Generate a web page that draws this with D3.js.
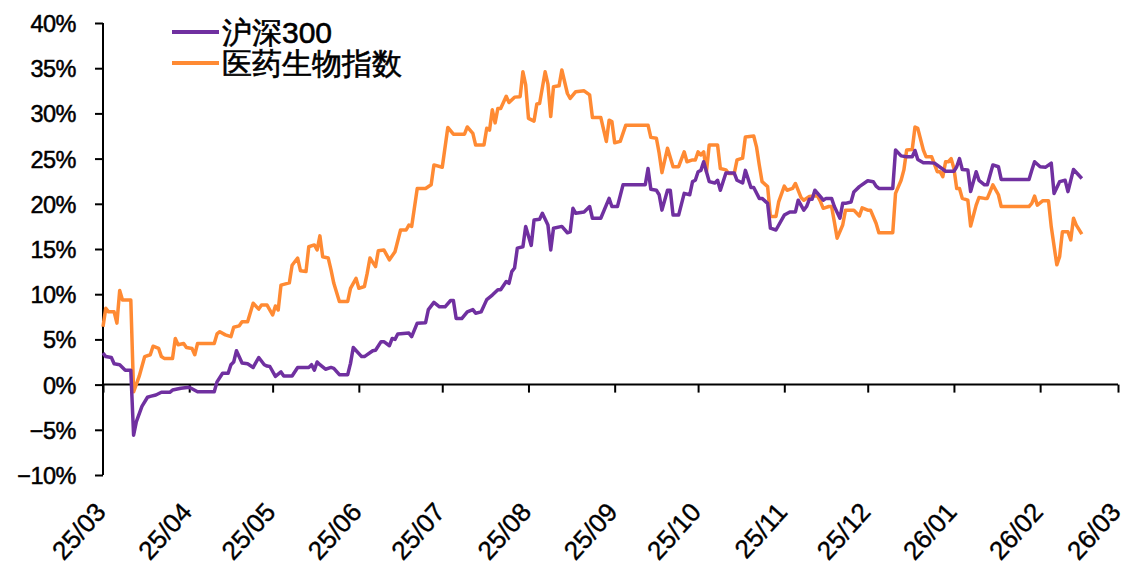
<!DOCTYPE html>
<html>
<head>
<meta charset="utf-8">
<script src="https://cdn.jsdelivr.net/npm/d3@7"></script>
<style>
  html, body { margin: 0; padding: 0; background: #fff; }
  svg { display: block; }
  text { font-family: "Liberation Sans", Arial, sans-serif; fill: #000; }
</style>
</head>
<body>
<svg id="chart" width="1127" height="572"></svg>
<script>
const seriesNames = ["沪深300", "医药生物指数"];
const seriesColors = ["#7030A0", "#FF8A33"];
const yTickValues = [-10, -5, 0, 5, 10, 15, 20, 25, 30, 35, 40];
const xTickMonths = ["2025-03-01","2025-04-01","2025-05-01","2025-06-01","2025-07-01","2025-08-01","2025-09-01","2025-10-01","2025-11-01","2025-12-01","2026-01-01","2026-02-01","2026-03-01"];

const hs300Dates = ["2025-03-01","2025-03-02","2025-03-04","2025-03-05","2025-03-07","2025-03-09","2025-03-11","2025-03-12","2025-03-13","2025-03-15","2025-03-17","2025-03-18","2025-03-20","2025-03-22","2025-03-25","2025-03-26","2025-03-29",
"2025-04-01","2025-04-04","2025-04-10","2025-04-11","2025-04-13","2025-04-15","2025-04-16","2025-04-17","2025-04-18","2025-04-20","2025-04-22","2025-04-24","2025-04-26","2025-04-28","2025-04-29","2025-04-30",
"2025-05-02","2025-05-04","2025-05-05","2025-05-08","2025-05-10","2025-05-14","2025-05-15","2025-05-16","2025-05-17","2025-05-18","2025-05-20","2025-05-22","2025-05-23","2025-05-25","2025-05-28","2025-05-29","2025-05-30",
"2025-06-02","2025-06-03","2025-06-06","2025-06-07","2025-06-09","2025-06-10","2025-06-12","2025-06-13","2025-06-14","2025-06-15","2025-06-19","2025-06-20","2025-06-22","2025-06-25","2025-06-26","2025-06-28","2025-06-30",
"2025-07-02","2025-07-04","2025-07-05","2025-07-06","2025-07-08","2025-07-10","2025-07-12","2025-07-13","2025-07-15","2025-07-17","2025-07-19","2025-07-21","2025-07-22","2025-07-24","2025-07-25","2025-07-26","2025-07-27","2025-07-28","2025-07-30","2025-07-31",
"2025-08-02","2025-08-03","2025-08-05","2025-08-06","2025-08-08","2025-08-09","2025-08-10","2025-08-13","2025-08-15","2025-08-16","2025-08-17","2025-08-18","2025-08-21","2025-08-23","2025-08-24","2025-08-27","2025-08-30","2025-08-31",
"2025-09-02","2025-09-04","2025-09-12","2025-09-13","2025-09-14","2025-09-16","2025-09-17","2025-09-18","2025-09-20","2025-09-21","2025-09-22","2025-09-24","2025-09-26","2025-09-28","2025-09-29","2025-09-30",
"2025-10-01","2025-10-02","2025-10-03","2025-10-05","2025-10-07","2025-10-08","2025-10-09","2025-10-11","2025-10-14","2025-10-15","2025-10-17","2025-10-18","2025-10-20","2025-10-21","2025-10-23","2025-10-24","2025-10-26","2025-10-27","2025-10-29",
"2025-11-01","2025-11-03","2025-11-05","2025-11-06","2025-11-08","2025-11-09","2025-11-10","2025-11-11","2025-11-12","2025-11-14","2025-11-15","2025-11-16","2025-11-18","2025-11-19","2025-11-21","2025-11-22","2025-11-23","2025-11-25","2025-11-26","2025-11-28",
"2025-12-01","2025-12-03","2025-12-04","2025-12-05","2025-12-10","2025-12-11","2025-12-13","2025-12-15","2025-12-17","2025-12-18","2025-12-19","2025-12-21","2025-12-23","2025-12-25","2025-12-29",
"2026-01-01","2026-01-02","2026-01-03","2026-01-04","2026-01-06","2026-01-07","2026-01-09","2026-01-10","2026-01-12","2026-01-13","2026-01-15","2026-01-17","2026-01-18","2026-01-28","2026-01-29","2026-01-30",
"2026-02-01","2026-02-03","2026-02-05","2026-02-06","2026-02-08","2026-02-10","2026-02-11","2026-02-13","2026-02-16"];
const hs300Values = [3.5,3.1,3.0,2.3,2.2,1.6,1.6,-5.6,-4.1,-2.4,-1.4,-1.3,-1.15,-0.85,-0.85,-0.6,-0.4,
-0.3,-0.8,-0.8,0.3,1.25,1.25,2.2,2.5,3.75,2.4,2.3,1.9,3.0,2.2,2.05,2.0,
0.9,1.4,0.95,0.95,1.9,1.9,2.2,1.6,2.5,2.2,1.7,1.9,1.8,1.1,1.1,2.35,4.1,
3.1,3.1,3.75,3.8,4.75,4.75,4.3,5.1,5.0,5.6,5.7,5.3,6.8,6.85,8.3,9.1,8.6,
8.6,9.3,9.3,7.3,7.3,8.05,8.3,7.9,8.05,9.4,9.9,10.5,10.5,11.4,11.2,12.5,12.9,15.1,15.25,17.5,
15.4,18.2,18.3,18.95,17.65,14.9,17.3,17.5,16.8,16.9,19.5,18.95,19.1,19.7,18.4,18.4,20.6,19.7,
19.7,22.1,22.1,23.9,21.6,21.5,21.0,19.3,21.5,21.5,18.75,18.75,21.15,21.0,22.45,22.6,
23.55,23.7,24.65,22.45,22.3,22.6,21.5,23.4,23.4,22.6,22.3,23.7,21.8,21.8,20.6,20.6,20.05,17.3,17.1,
18.75,19.1,19.1,20.4,19.3,19.7,20.5,20.5,21.5,20.8,20.4,20.6,20.6,19.7,18.4,20.05,20.05,20.2,21.3,21.9,
22.55,22.45,21.95,21.7,21.7,25.95,25.3,25.2,25.2,25.9,24.9,24.55,24.55,24.5,23.6,
23.6,24.1,25.0,23.8,23.75,21.35,23.55,22.6,22.1,22.1,24.3,24.1,22.7,22.7,23.7,24.65,
24.1,24.05,24.5,21.15,22.45,22.6,21.35,23.8,22.8];

const yyDates = ["2025-03-01","2025-03-02","2025-03-03","2025-03-05","2025-03-06","2025-03-07","2025-03-08","2025-03-11","2025-03-12","2025-03-14","2025-03-16","2025-03-18","2025-03-19","2025-03-21","2025-03-22","2025-03-23","2025-03-26","2025-03-27","2025-03-28","2025-03-30","2025-03-31",
"2025-04-02","2025-04-03","2025-04-04","2025-04-10","2025-04-11","2025-04-12","2025-04-14","2025-04-16","2025-04-17","2025-04-19","2025-04-20","2025-04-22","2025-04-24","2025-04-26","2025-04-27","2025-04-29",
"2025-05-01","2025-05-02","2025-05-03","2025-05-04","2025-05-07","2025-05-08","2025-05-10","2025-05-11","2025-05-13","2025-05-14","2025-05-16","2025-05-17","2025-05-18","2025-05-19","2025-05-21","2025-05-22","2025-05-23","2025-05-25","2025-05-28","2025-05-29","2025-05-31",
"2025-06-01","2025-06-03","2025-06-04","2025-06-05","2025-06-07","2025-06-08","2025-06-10","2025-06-12","2025-06-14","2025-06-16","2025-06-18","2025-06-19","2025-06-20","2025-06-22","2025-06-25","2025-06-27","2025-06-28",
"2025-07-01","2025-07-03","2025-07-05","2025-07-09","2025-07-10","2025-07-12","2025-07-13","2025-07-16","2025-07-17","2025-07-18","2025-07-19","2025-07-20","2025-07-21","2025-07-22","2025-07-24","2025-07-25","2025-07-27","2025-07-29","2025-07-30","2025-07-31",
"2025-08-01","2025-08-03","2025-08-04","2025-08-05","2025-08-07","2025-08-08","2025-08-09","2025-08-10","2025-08-12","2025-08-13","2025-08-15","2025-08-16","2025-08-18","2025-08-21","2025-08-23","2025-08-24","2025-08-27","2025-08-29","2025-08-30","2025-08-31",
"2025-09-01","2025-09-03","2025-09-05","2025-09-13","2025-09-14","2025-09-16","2025-09-17","2025-09-18","2025-09-20","2025-09-22","2025-09-24","2025-09-26","2025-09-27","2025-09-29","2025-09-30",
"2025-10-01","2025-10-02","2025-10-03","2025-10-04","2025-10-05","2025-10-08","2025-10-09","2025-10-11","2025-10-12","2025-10-14","2025-10-15","2025-10-17","2025-10-18","2025-10-21","2025-10-22","2025-10-23","2025-10-24","2025-10-26","2025-10-27","2025-10-29","2025-10-30",
"2025-11-01","2025-11-02","2025-11-04","2025-11-05","2025-11-07","2025-11-08","2025-11-10","2025-11-11","2025-11-13","2025-11-14","2025-11-15","2025-11-17","2025-11-18","2025-11-19","2025-11-20","2025-11-22","2025-11-23","2025-11-26","2025-11-28","2025-11-29",
"2025-12-01","2025-12-02","2025-12-04","2025-12-05","2025-12-10","2025-12-11","2025-12-13","2025-12-14","2025-12-15","2025-12-17","2025-12-18","2025-12-19","2025-12-21","2025-12-22","2025-12-24","2025-12-26","2025-12-27","2025-12-28","2025-12-29","2025-12-30","2025-12-31",
"2026-01-01","2026-01-02","2026-01-03","2026-01-04","2026-01-06","2026-01-07","2026-01-09","2026-01-10","2026-01-12","2026-01-13","2026-01-15","2026-01-17","2026-01-18","2026-01-28","2026-01-29","2026-01-30","2026-01-31",
"2026-02-02","2026-02-04","2026-02-05","2026-02-07","2026-02-08","2026-02-09","2026-02-11","2026-02-12","2026-02-13","2026-02-14","2026-02-16"];
const yyValues = [6.4,8.45,8.05,8.05,6.8,10.4,9.35,9.35,-0.8,0.9,3.1,3.3,4.25,4.0,3.1,2.9,2.9,5.1,4.4,4.55,4.1,
4.0,3.3,4.55,4.55,5.6,5.85,5.5,5.3,6.35,6.5,6.95,6.95,9.0,8.35,8.8,8.8,
7.7,8.7,8.25,11.0,11.25,13.2,14.0,12.6,12.5,15.25,15.45,14.9,16.45,14.15,14.0,12.7,11.2,9.2,9.2,10.65,11.75,
10.65,10.85,12.3,14.0,13.05,14.8,14.9,13.8,14.7,17.1,17.1,17.65,17.5,21.7,21.7,22.1,24.3,
24.05,28.45,27.7,27.7,28.5,27.8,26.5,26.5,28.35,28.15,30.4,28.95,30.55,30.55,31.9,31.2,31.8,31.85,34.6,33.15,
29.45,29.15,31.05,31.1,34.6,33.25,29.65,32.95,33.05,34.8,32.2,31.65,32.4,32.5,32.05,29.55,29.55,26.9,29.25,29.1,
26.75,26.9,28.7,28.7,27.35,27.25,25.6,23.45,26.15,24.1,24.1,25.75,24.65,24.85,24.85,
25.75,25.4,25.75,23.55,26.5,26.5,23.9,23.75,23.35,23.35,24.85,25.05,27.4,27.5,26.3,24.3,22.45,21.9,18.6,18.6,20.25,
21.95,21.5,21.7,22.25,20.7,20.4,20.8,20.85,20.85,20.25,19.5,19.7,19.7,18.0,16.2,17.65,19.3,19.3,18.65,19.55,
19.3,19.3,17.85,16.8,16.8,21.15,22.6,23.75,25.95,26.0,28.5,28.35,25.95,25.2,25.2,23.55,23.55,23.0,24.65,24.65,25.0,
23.9,21.7,21.7,20.6,20.4,17.55,19.85,20.7,20.6,20.6,22.1,21.0,19.7,19.7,20.05,20.85,19.85,
20.35,20.35,17.45,13.25,14.15,16.9,16.9,16.0,18.4,17.65,16.65];

const parse = d3.timeParse("%Y-%m-%d");
const series = [
  { name: seriesNames[0], color: seriesColors[0], points: hs300Dates.map((d, i) => ({ date: parse(d), value: hs300Values[i] })) },
  { name: seriesNames[1], color: seriesColors[1], points: yyDates.map((d, i) => ({ date: parse(d), value: yyValues[i] })) }
];
const monthTicks = xTickMonths.map(parse);

const svg = d3.select("#chart");
const plotLeft = 103, plotRight = 1118, plotTop = 23, plotBottom = 475;

const x = d3.scaleTime().domain([monthTicks[0], monthTicks[monthTicks.length - 1]]).range([plotLeft, plotRight]);
const y = d3.scaleLinear().domain([-10, 40]).range([plotBottom, plotTop]);

// Y axis
const yAxis = svg.append("g")
  .attr("transform", `translate(${plotLeft},0)`)
  .call(d3.axisLeft(y).tickValues(yTickValues).tickSize(8).tickPadding(19)
    .tickFormat(d => (d < 0 ? "\u2212" + Math.abs(d) : d) + "%"));
yAxis.select(".domain").attr("stroke", "#000").attr("stroke-width", 2).attr("d", `M0,${plotTop}V${plotBottom}`);
yAxis.selectAll(".tick line").attr("stroke", "#000").attr("stroke-width", 2);
yAxis.selectAll(".tick text")
  .attr("font-size", 23.5).attr("font-family", "Liberation Sans, Arial, sans-serif")
  .attr("dy", "0.36em").attr("stroke", "#000").attr("stroke-width", 0.5).attr("letter-spacing", -0.5);

// X axis ticks on zero line
const xAxis = svg.append("g")
  .attr("transform", `translate(0,${y(0)})`)
  .call(d3.axisBottom(x).tickValues(monthTicks).tickSize(8).tickFormat(""));
xAxis.select(".domain").attr("stroke", "#000").attr("stroke-width", 2).attr("d", `M${plotLeft},0H${plotRight}`);
xAxis.selectAll(".tick line").attr("stroke", "#000").attr("stroke-width", 2);

// X labels at bottom
const xLab = svg.append("g")
  .attr("transform", `translate(0,${plotBottom})`)
  .call(d3.axisBottom(x).tickValues(monthTicks).tickSize(0).tickFormat(d3.timeFormat("%y/%m")));
xLab.select(".domain").remove();
xLab.selectAll(".tick text")
  .attr("font-size", 26)
  .attr("font-family", "Liberation Sans, Arial, sans-serif")
  .attr("text-anchor", "end")
  .attr("stroke", "#000").attr("stroke-width", 0.4)
  .attr("x", 0).attr("y", 0).attr("dy", "0.35em")
  .attr("transform", "translate(-3,32) rotate(-48)");

// Lines
const line = d3.line().x(d => x(d.date)).y(d => y(d.value));
svg.append("g").selectAll("path.series")
  .data(series.slice().reverse())
  .join("path")
  .attr("class", "series")
  .attr("fill", "none")
  .attr("stroke", d => d.color)
  .attr("stroke-width", 3.5)
  .attr("stroke-linejoin", "round")
  .attr("d", d => line(d.points));

// Legend
const legend = svg.append("g");
series.forEach((s, i) => {
  const ly = 32 + i * 31;
  legend.append("line").attr("x1", 172).attr("x2", 219).attr("y1", ly).attr("y2", ly)
    .attr("stroke", s.color).attr("stroke-width", 4);
  legend.append("text").attr("x", 222).attr("y", ly).attr("dy", "0.35em")
    .attr("font-size", 30).attr("font-family", "Noto Sans CJK SC, sans-serif")
    .attr("stroke", "#000").attr("stroke-width", 0.6).text(s.name);
});
</script>
</body>
</html>
